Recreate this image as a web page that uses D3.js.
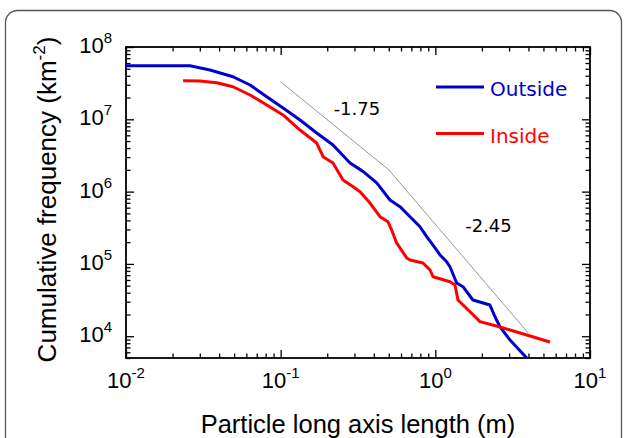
<!DOCTYPE html>
<html>
<head>
<meta charset="utf-8">
<script src="https://cdn.jsdelivr.net/npm/d3@7"></script>
<style>
  body { margin: 0; background: #fff; }
  svg { display: block; }
  text { font-family: "Liberation Sans", Arial, sans-serif; fill: #000; }
</style>
</head>
<body>
<svg id="chart" width="625" height="438"></svg>
<script>
// Outside (blue) cumulative frequency curve
const outsideX = [0.01, 0.0259, 0.0349, 0.0492, 0.0634, 0.0813, 0.1036, 0.1334, 0.171, 0.218, 0.281, 0.342, 0.418, 0.509, 0.591, 0.686, 0.796, 0.879, 0.966, 1.072, 1.184, 1.244, 1.374, 1.509, 1.75, 2.254, 2.43, 2.62, 3.04, 3.90];
const outsideY = [5.5e7, 5.5e7, 4.81e7, 3.88e7, 2.98e7, 2.05e7, 1.43e7, 9.78e6, 6.47e6, 4.41e6, 2.49e6, 1.89e6, 1.32e6, 7.66e5, 6.19e5, 4.50e5, 3.27e5, 2.38e5, 1.82e5, 1.33e5, 1.07e5, 9.14e4, 5.44e4, 4.84e4, 3.17e4, 2.70e4, 1.86e4, 1.35e4, 8.85e3, 5.0e3];

// Inside (red) cumulative frequency curve
const insideX = [0.0234, 0.0301, 0.0386, 0.0492, 0.0634, 0.0813, 0.1036, 0.1334, 0.171, 0.188, 0.218, 0.253, 0.294, 0.326, 0.378, 0.439, 0.494, 0.522, 0.562, 0.653, 0.686, 0.832, 0.924, 0.966, 1.244, 1.34, 1.40, 1.945, 2.62, 3.90, 5.51];
const insideY = [3.42e7, 3.39e7, 3.21e7, 2.82e7, 2.17e7, 1.58e7, 1.15e7, 7.11e6, 4.70e6, 3.04e6, 2.49e6, 1.45e6, 1.17e6, 9.97e5, 6.95e5, 4.50e5, 3.83e5, 2.94e5, 1.95e5, 1.21e5, 1.13e5, 1.03e5, 8.24e4, 6.65e4, 5.67e4, 5.11e4, 3.17e4, 1.59e4, 1.34e4, 1.04e4, 8.31e3];

// reference slope line (-1.75 then -2.45)
const slopeX = [0.1, 0.5, 4.0];
const slopeY = [3.3e7, 2.0e6, 1.1e4];
const slopeLabels = ["-1.75", "-2.45"];
const slopeLabelX = [0.22, 1.56];
const slopeLabelY = [1.15e7, 2.76e5];

const xDecades = [-2, -1, 0, 1];
const yDecades = [4, 5, 6, 7, 8];
const seriesNames = ["Outside", "Inside"];
const seriesColors = ["#0000cc", "#ff0000"];

const svg = d3.select("#chart");
const margin = {top: 47, right: 35, bottom: 80, left: 126};
const width = 625 - margin.left - margin.right;
const height = 438 - margin.top - margin.bottom;

// card outline
svg.append("rect")
    .attr("x", 5.5).attr("y", 10.5)
    .attr("width", 616).attr("height", 460)
    .attr("rx", 12)
    .attr("fill", "none")
    .attr("stroke", "#555")
    .attr("stroke-width", 1.3);

const x = d3.scaleLog().domain([1e-2, 1e1]).range([0, width]);
const y = d3.scaleLog().domain([5e3, 1e8]).range([height, 0]);

const g = svg.append("g")
    .attr("transform", "translate(" + margin.left + "," + margin.top + ")");

function minorTicks(scale) {
    const [lo, hi] = scale.domain();
    const t = [];
    for (let e = Math.floor(Math.log10(lo)); e < Math.log10(hi); e++) {
        for (let k = 2; k <= 9; k++) {
            const v = k * Math.pow(10, e);
            if (v >= lo && v <= hi) t.push(v);
        }
    }
    return t;
}

const xMajor = xDecades.map(e => Math.pow(10, e));
const yMajor = yDecades.map(e => Math.pow(10, e));

function drawAxis(axisFn, scale, transform, major) {
    [[major, 8], [minorTicks(scale), 4.5]].forEach(([vals, len]) => {
        const a = g.append("g")
            .attr("transform", transform)
            .call(axisFn(scale).tickValues(vals).tickSize(-len).tickSizeOuter(0).tickFormat(""));
        a.select(".domain").remove();
        a.selectAll("line").attr("stroke", "#000").attr("stroke-width", 1.3);
    });
}

drawAxis(d3.axisBottom, x, "translate(0," + height + ")", xMajor);
drawAxis(d3.axisTop, x, "translate(0,0)", xMajor);
drawAxis(d3.axisLeft, y, "translate(0,0)", yMajor);
drawAxis(d3.axisRight, y, "translate(" + width + ",0)", yMajor);

// frame
g.append("rect")
    .attr("width", width).attr("height", height)
    .attr("fill", "none")
    .attr("stroke", "#000")
    .attr("stroke-width", 1.8);

// tick labels 10^n
xDecades.forEach(e => {
    const t = g.append("text")
        .attr("x", x(Math.pow(10, e)))
        .attr("y", height + 30)
        .attr("text-anchor", "middle")
        .attr("font-size", 22);
    t.append("tspan").text("10");
    t.append("tspan").attr("dy", -10).attr("font-size", 15).text(e);
});

yDecades.forEach(e => {
    const t = g.append("text")
        .attr("x", -14)
        .attr("y", y(Math.pow(10, e)) + 6)
        .attr("text-anchor", "end")
        .attr("font-size", 22);
    t.append("tspan").text("10");
    t.append("tspan").attr("dy", -10).attr("font-size", 15).text(e);
});

// axis titles
svg.append("text")
    .attr("x", margin.left + width / 2)
    .attr("y", 433)
    .attr("text-anchor", "middle")
    .attr("font-size", 25.5)
    .text("Particle long axis length (m)");

const yt = svg.append("text")
    .attr("transform", "translate(56," + (margin.top + height / 2 - 3) + ") rotate(-90)")
    .attr("text-anchor", "middle")
    .attr("font-size", 26);
yt.append("tspan").text("Cumulative frequency (km");
yt.append("tspan").attr("dy", -11).attr("font-size", 17).text("-2");
yt.append("tspan").attr("dy", 11).text(")");

// clip to plot area
svg.append("defs").append("clipPath").attr("id", "clip")
    .append("rect").attr("width", width).attr("height", height);

const line = d3.line().x(d => x(d[0])).y(d => y(d[1]));

g.append("path")
    .datum(d3.zip(slopeX, slopeY))
    .attr("d", line)
    .attr("fill", "none")
    .attr("stroke", "#8a8a8a")
    .attr("stroke-width", 0.9);

slopeLabels.forEach((s, i) => {
    g.append("text")
        .attr("x", x(slopeLabelX[i]))
        .attr("y", y(slopeLabelY[i]))
        .style("font-family", "'DejaVu Sans'")
        .attr("font-size", 18)
        .text(s);
});

const series = [d3.zip(outsideX, outsideY), d3.zip(insideX, insideY)];
series.forEach((s, i) => {
    g.append("path")
        .datum(s)
        .attr("clip-path", "url(#clip)")
        .attr("d", line)
        .attr("fill", "none")
        .attr("stroke", seriesColors[i])
        .attr("stroke-width", 3)
        .attr("stroke-linejoin", "round");
});

// legend
seriesNames.forEach((name, i) => {
    const ly = 87 + i * 46.5;
    svg.append("line")
        .attr("x1", 436).attr("x2", 484)
        .attr("y1", ly).attr("y2", ly)
        .attr("stroke", seriesColors[i])
        .attr("stroke-width", 3);
    svg.append("text")
        .attr("x", 490)
        .attr("y", ly + 9)
        .style("font-family", "'DejaVu Sans'")
        .attr("font-size", 20)
        .style("fill", seriesColors[i])
        .text(name);
});
</script>
</body>
</html>
